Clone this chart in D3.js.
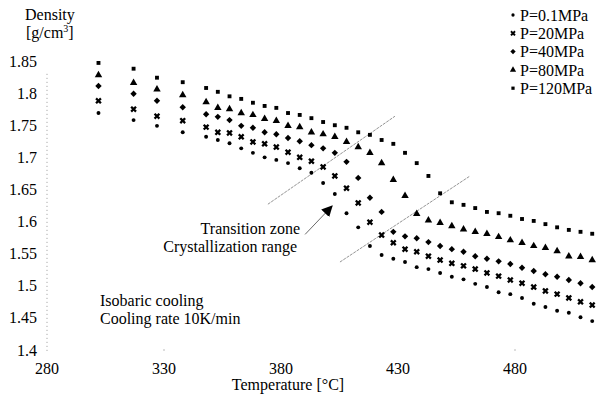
<!DOCTYPE html>
<html><head><meta charset="utf-8">
<script src="https://cdn.jsdelivr.net/npm/d3@7"></script>
<style>
html,body{margin:0;padding:0;background:#fff;}
svg{display:block;font-family:"Liberation Serif","Times New Roman",serif;}
</style></head><body><svg id="chart" width="606" height="394"></svg>
<script>
// isobaric cooling runs, density vs temperature, one list per pressure
const temps = [302,317,327,338,348,353,358,363,368,373,378,383,388,393,398,403,408,413,418,423,428,433,438,443,448,453,458,463,468,473,478,483,488,493,498,503,508,513];
const p01 = [1.769,1.758,1.749,1.739,1.732,1.727,1.722,1.714,1.707,1.700,1.696,1.691,1.683,1.676,1.660,1.643,1.613,1.591,1.562,1.548,1.542,1.537,1.529,1.526,1.520,1.514,1.510,1.503,1.498,1.490,1.487,1.481,1.472,1.467,1.461,1.458,1.451,1.445];
const p20 = [1.788,1.775,1.764,1.757,1.747,1.739,1.738,1.732,1.724,1.721,1.716,1.708,1.700,1.694,1.685,1.671,1.652,1.629,1.599,1.579,1.567,1.557,1.553,1.546,1.540,1.535,1.531,1.526,1.520,1.515,1.509,1.504,1.498,1.492,1.487,1.481,1.475,1.470];
const p40 = [1.811,1.799,1.788,1.778,1.767,1.763,1.758,1.749,1.746,1.739,1.736,1.730,1.725,1.719,1.714,1.707,1.693,1.668,1.637,1.615,1.584,1.577,1.574,1.568,1.562,1.557,1.553,1.546,1.542,1.538,1.534,1.528,1.523,1.518,1.514,1.509,1.504,1.498];
const p80 = [1.828,1.816,1.806,1.797,1.786,1.777,1.775,1.769,1.766,1.760,1.757,1.749,1.747,1.739,1.736,1.732,1.724,1.716,1.707,1.691,1.665,1.640,1.612,1.602,1.598,1.593,1.588,1.584,1.581,1.576,1.571,1.567,1.562,1.559,1.554,1.546,1.545,1.540];
const p120 = [1.847,1.838,1.824,1.817,1.808,1.802,1.795,1.791,1.785,1.780,1.777,1.769,1.766,1.761,1.755,1.750,1.746,1.739,1.735,1.727,1.721,1.707,1.691,1.671,1.644,1.630,1.626,1.621,1.615,1.613,1.609,1.604,1.601,1.596,1.591,1.587,1.584,1.581];
const legendLabels = ["P=0.1MPa","P=20MPa","P=40MPa","P=80MPa","P=120MPa"];
const xTicks = [280,330,380,430,480];
const yTicks = [1.4,1.45,1.5,1.55,1.6,1.65,1.7,1.75,1.8,1.85];
// transition zone boundaries [T, rho] and the pointer arrow
const zoneUpper = [[374.4,1.627],[428.7,1.764]];
const zoneLower = [[405.2,1.537],[460.8,1.671]];
const arrow = [[390.3,1.580],[401.8,1.624]];

const svg = d3.select("#chart");
const x = d3.scaleLinear().domain([280,480]).range([47,515]);
const y = d3.scaleLinear().domain([1.4,1.85]).range([350,61]);

const shapes = [
  {sym:d3.symbolCircle, size:12, rot:0},
  {sym:d3.symbolCross, size:26, rot:45},
  {sym:d3.symbolDiamond2, size:26, rot:0},
  {sym:d3.symbolTriangle, size:24, rot:0},
  {sym:d3.symbolSquare, size:15, rot:0},
];
const series = [p01,p20,p40,p80,p120];

// axis: faint dotted vertical line + two stray ticks under the plot
svg.append("line").attr("x1",x(280)).attr("x2",x(280)).attr("y1",y(1.83)).attr("y2",y(1.397))
  .attr("stroke","#999").attr("stroke-dasharray","1 3");
svg.selectAll(".xt").data([330,480]).enter().append("line")
  .attr("x1",d=>x(d)-1).attr("x2",d=>x(d)+1).attr("y1",350).attr("y2",350).attr("stroke","#bbb");

svg.selectAll(".ytl").data(yTicks).enter().append("text")
  .attr("x",37).attr("y",d=>y(d)).attr("dy","0.35em").attr("text-anchor","end")
  .attr("font-size",16).text(d=>String(d));
svg.selectAll(".xtl").data(xTicks).enter().append("text")
  .attr("x",d=>x(d)).attr("y",374).attr("text-anchor","middle")
  .attr("font-size",16).text(d=>d);

svg.append("text").attr("x",288).attr("y",390).attr("text-anchor","middle").attr("font-size",16)
  .text("Temperature [°C]");
svg.append("text").attr("x",25).attr("y",20).attr("font-size",16).text("Density");
const unit = svg.append("text").attr("x",26).attr("y",38).attr("font-size",16);
unit.append("tspan").text("[g/cm");
unit.append("tspan").attr("dy",-6).attr("font-size",10).text("3");
unit.append("tspan").attr("dy",6).text("]");

svg.append("text").attr("x",100).attr("y",306).attr("font-size",16).text("Isobaric cooling");
svg.append("text").attr("x",100).attr("y",324).attr("font-size",16).text("Cooling rate 10K/min");

// zone lines
const line = d3.line().x(d=>x(d[0])).y(d=>y(d[1]));
[zoneUpper,zoneLower].forEach(z=>{
  svg.append("path").attr("d",line(z)).attr("fill","none").attr("stroke","#777")
    .attr("stroke-width",0.8).attr("stroke-dasharray","3 1");
});

// arrow
svg.append("defs").append("marker").attr("id","ah").attr("viewBox","0 0 10 10")
  .attr("refX",9).attr("refY",5).attr("markerUnits","userSpaceOnUse")
  .attr("markerWidth",11).attr("markerHeight",11)
  .attr("orient","auto").append("path").attr("d","M0,0L10,5L0,10z").attr("fill","#000");
svg.append("path").attr("d",line(arrow)).attr("stroke","#444").attr("stroke-width",0.8)
  .attr("fill","none").attr("marker-end","url(#ah)");

svg.append("text").attr("x",300).attr("y",234).attr("text-anchor","end").attr("font-size",16).text("Transition zone");
svg.append("text").attr("x",297).attr("y",252).attr("text-anchor","end").attr("font-size",16).text("Crystallization range");

// points
series.forEach((vals,i)=>{
  const s = shapes[i];
  svg.append("g").selectAll("path").data(vals).enter().append("path")
    .attr("transform",(d,j)=>`translate(${x(temps[j])},${y(d)}) rotate(${s.rot})`)
    .attr("d",d3.symbol().type(s.sym).size(s.size)).attr("fill","#000");
});

// legend
const lg = svg.append("g");
legendLabels.forEach((t,i)=>{
  const s = shapes[i];
  const cy = 15 + i*18.3;
  lg.append("path").attr("transform",`translate(513,${cy}) rotate(${s.rot})`)
    .attr("d",d3.symbol().type(s.sym).size(s.size*0.7)).attr("fill","#000");
  lg.append("text").attr("x",520).attr("y",cy).attr("dy","0.35em").attr("font-size",16).text(t);
});
</script></body></html>
